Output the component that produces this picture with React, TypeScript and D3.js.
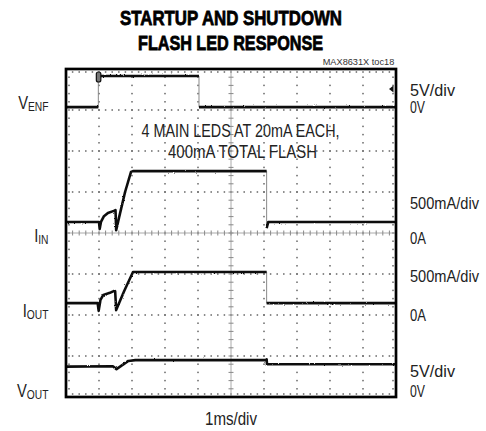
import * as d3 from 'd3';

const W = 486;
const H = 431;
const FRAME = { left: 66, right: 396, top: 69, bottom: 397 };
const X_DIVS = 10;
const Y_DIVS = 8;
const SUB = 5;

// traces: [time in ms (1ms/div), level in screen divisions from bottom]
const VENF: [number, number][] = [
  [0, 7.07], [0.98, 7.07], [0.98, 7.83], [4.03, 7.83], [4.03, 7.07], [10, 7.07],
];
const IIN: [number, number][] = [
  [0, 4.27], [1.0, 4.27], [1.02, 4.1], [1.06, 4.27], [1.15, 4.41], [1.27, 4.49],
  [1.45, 4.54], [1.5, 4.56], [1.52, 4.07], [1.6, 4.35], [1.79, 5.0], [1.97, 5.49],
  [2.03, 5.51], [6.08, 5.51], [6.08, 4.12], [6.13, 4.27], [10, 4.27],
];
const IOUT: [number, number][] = [
  [0, 2.29], [0.96, 2.29], [0.99, 2.1], [1.045, 2.37], [1.13, 2.49], [1.33, 2.54],
  [1.46, 2.59], [1.49, 2.58], [1.52, 2.12], [1.76, 2.58], [2.03, 3.05],
  [6.08, 3.05], [6.08, 2.29], [10, 2.29],
];
const VOUT: [number, number][] = [
  [0, 0.74], [1.42, 0.75], [1.53, 0.68], [1.89, 0.88], [2.1, 0.9],
  [6.06, 0.9], [6.08, 0.92], [6.09, 0.8], [10, 0.8],
];

const TITLE = ['STARTUP AND SHUTDOWN', 'FLASH LED RESPONSE'];
const NOTE = ['4 MAIN LEDS AT 20mA EACH,', '400mA TOTAL FLASH'];

// right-side scale labels: text, baseline, width
const RIGHT_LABELS: [string, number, number][] = [
  ['5V/div', 96, 45], ['0V', 113, 15],
  ['500mA/div', 209, 69], ['0A', 244, 16],
  ['500mA/div', 281.5, 69], ['0A', 321, 16],
  ['5V/div', 377, 45], ['0V', 396.5, 15],
];
// left-side trace names: main letter, subscript, baseline
const LEFT_LABELS: [string, string, number][] = [
  ['V', 'ENF', 108.5], ['I', 'IN', 242], ['I', 'OUT', 317], ['V', 'OUT', 397],
];

const x = d3.scaleLinear().domain([0, X_DIVS]).range([FRAME.left, FRAME.right]);
const y = d3.scaleLinear().domain([0, Y_DIVS]).range([FRAME.bottom, FRAME.top]);
const line = d3.line<[number, number]>().x(d => x(d[0])).y(d => y(d[1]));

const FONT = '"Liberation Sans", Arial, sans-serif';
const NARROW = 0.82; // the original uses a condensed face

// condensed text: squeezed horizontally, then fitted to the measured width
function Narrow({ x: tx, y: ty, w, size, anchor = 'start', bold = false, fill = '#222', children }: {
  x: number; y: number; w: number; size: number; anchor?: string; bold?: boolean; fill?: string;
  children: string;
}) {
  return (
    <text transform={`translate(${tx},${ty}) scale(${NARROW},1)`} textAnchor={anchor}
      fontSize={size} fontWeight={bold ? 'bold' : 'normal'} textLength={w / NARROW}
      lengthAdjust="spacingAndGlyphs" fill={fill}
      stroke={bold ? '#000' : 'none'} strokeWidth={bold ? 0.8 : 0}>
      {children}
    </text>
  );
}

function Trace({ pts }: { pts: [number, number][] }) {
  // vertical steps are drawn thin and grey, like the scope's fast edges
  const runs: [number, number][][] = [];
  let cur: [number, number][] = [pts[0]];
  for (let i = 1; i < pts.length; i++) {
    if (pts[i][0] === pts[i - 1][0]) {
      runs.push(cur);
      cur = [pts[i]];
    } else cur.push(pts[i]);
  }
  runs.push(cur);
  return (
    <g>
      <path d={line(pts) ?? ''} fill="none" stroke="#8a8a8a" strokeWidth={1} />
      <g filter="url(#fuzz)">
        {runs.map((r, i) => (
          <path key={i} d={line(r) ?? ''} fill="none" stroke="#111" strokeWidth={2.6}
            strokeLinejoin="round" />
        ))}
      </g>
    </g>
  );
}

function Grid() {
  const dots: [number, number][] = [];
  for (let k = 1; k < X_DIVS; k++) {
    if (k === X_DIVS / 2) continue;
    for (let j = 1; j < Y_DIVS * SUB; j++) dots.push([x(k), y(j / SUB)]);
  }
  for (let k = 1; k < Y_DIVS; k++) {
    if (k === Y_DIVS / 2) continue;
    for (let i = 1; i < X_DIVS * SUB; i++) dots.push([x(i / SUB), y(k)]);
  }
  // dots just inside the frame edges
  for (let i = 1; i < X_DIVS * SUB; i++) {
    dots.push([x(i / SUB), FRAME.top + 3]);
    dots.push([x(i / SUB), FRAME.bottom - 3]);
  }
  for (let j = 1; j < Y_DIVS * SUB; j++) {
    dots.push([FRAME.left + 3, y(j / SUB)]);
    dots.push([FRAME.right - 3, y(j / SUB)]);
  }
  const cx = x(X_DIVS / 2);
  const cy = y(Y_DIVS / 2);
  return (
    <g>
      {dots.map(([px, py], i) => (
        <rect key={i} x={px - 0.75} y={py - 0.75} width={1.5} height={1.5} fill="#666" />
      ))}
      <line x1={cx} x2={cx} y1={FRAME.top} y2={FRAME.bottom} stroke="#aaa" strokeWidth={1} />
      <line x1={FRAME.left} x2={FRAME.right} y1={cy} y2={cy} stroke="#aaa" strokeWidth={1} />
      {d3.range(1, Y_DIVS * SUB).map(j => (
        <line key={'v' + j} x1={cx - 2.5} x2={cx + 2.5} y1={y(j / SUB)} y2={y(j / SUB)}
          stroke="#888" strokeWidth={1} />
      ))}
      {d3.range(1, X_DIVS * SUB).map(i => (
        <line key={'h' + i} x1={x(i / SUB)} x2={x(i / SUB)} y1={cy - 2.5} y2={cy + 2.5}
          stroke="#888" strokeWidth={1} />
      ))}
    </g>
  );
}

export default function App() {
  return (
    <svg width={W} height={H} style={{ position: 'absolute', left: 0, top: 0, background: '#fff' }}
      fontFamily={FONT}>
      <defs>
        <filter id="fuzz" x="-5%" y="-20%" width="110%" height="140%">
          <feTurbulence type="fractalNoise" baseFrequency="0.9" numOctaves={1} seed={3} result="n" />
          <feDisplacementMap in="SourceGraphic" in2="n" scale={2.2} xChannelSelector="R" yChannelSelector="G" />
        </filter>
      </defs>
      <Narrow x={231} y={25} w={222} size={21} anchor="middle" bold fill="#000">{TITLE[0]}</Narrow>
      <Narrow x={230.5} y={49.5} w={185} size={21} anchor="middle" bold fill="#000">{TITLE[1]}</Narrow>
      <Narrow x={322.7} y={65} w={71.6} size={9} fill="#333">MAX8631X toc18</Narrow>

      <Grid />

      <Narrow x={141.5} y={137} w={198} size={18}>{NOTE[0]}</Narrow>
      <Narrow x={168} y={158} w={149} size={18}>{NOTE[1]}</Narrow>

      {[VENF, IIN, IOUT, VOUT].map((pts, i) => <Trace key={i} pts={pts} />)}

      {/* trigger and ground markers */}
      <rect x={x(0.98) - 2} y={72} width={4.5} height={10} rx={2} fill="#777" stroke="#111" strokeWidth={1.2} />
      <path d={`M${FRAME.right - 7},89 L${FRAME.right - 2.5},85.5 L${FRAME.right - 2.5},92.5 Z`} fill="#111" />

      <rect x={FRAME.left} y={FRAME.top} width={FRAME.right - FRAME.left}
        height={FRAME.bottom - FRAME.top} fill="none" stroke="#000" strokeWidth={2.7} />

      {RIGHT_LABELS.map(([t, by, w], i) => (
        <Narrow key={i} x={410} y={by} w={w} size={17}>{t}</Narrow>
      ))}
      {LEFT_LABELS.map(([m, s, by], i) => (
        <g key={i} transform={`translate(48.5,${by}) scale(${NARROW},1)`}>
          <text textAnchor="end" fontSize={18} fill="#222">
            {m}<tspan fontSize={12.5} dy={2}>{s}</tspan>
          </text>
        </g>
      ))}
      <Narrow x={231} y={425} w={52} size={17.5} anchor="middle">1ms/div</Narrow>
    </svg>
  );
}
